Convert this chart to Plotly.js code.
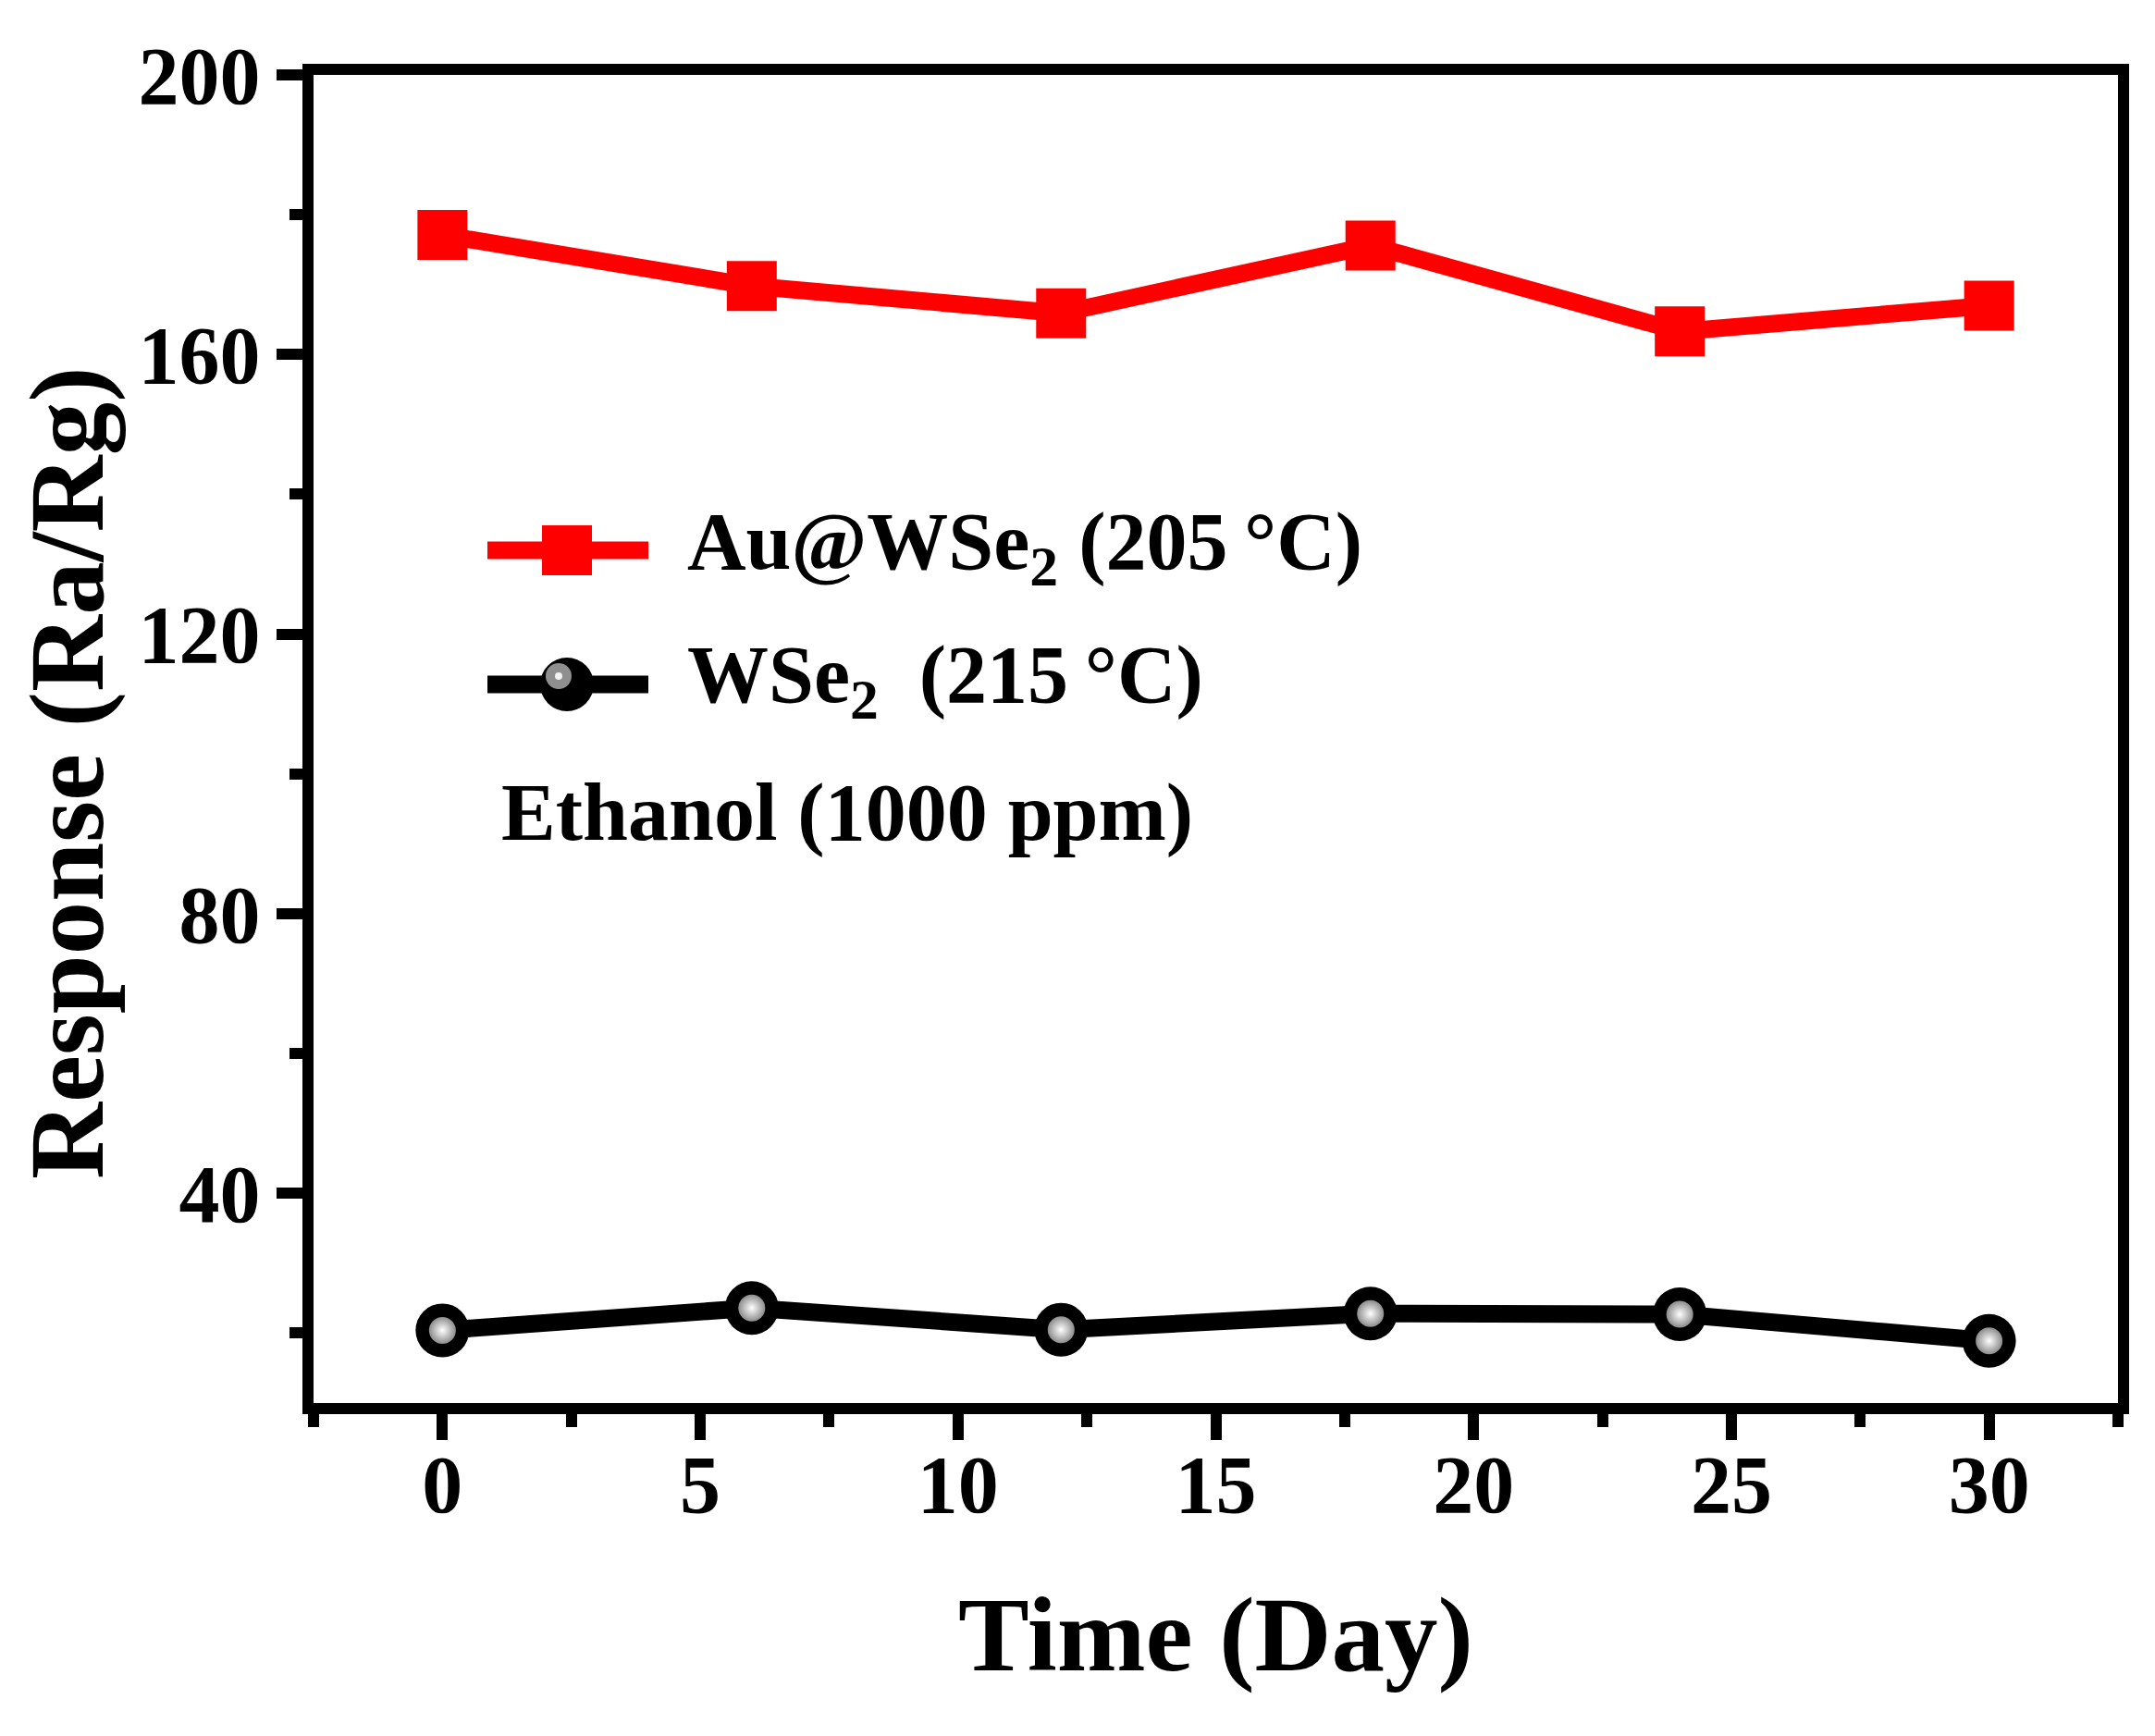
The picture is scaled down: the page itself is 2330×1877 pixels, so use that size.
<!DOCTYPE html>
<html>
<head>
<meta charset="utf-8">
<script src="https://cdn.plot.ly/plotly-3.0.1.min.js"></script>
<style>
  html, body { margin: 0; padding: 0; background: #fff; }
  #graph { width: 2330px; height: 1877px; }
</style>
</head>
<body>
<div id="graph"></div>
<script>
'use strict';

var days = [0, 6, 12, 18, 24, 30];
var responseAuWSe2 = [177.1, 169.8, 165.9, 175.6, 163.3, 167.0];
var responseWSe2 = [20.4, 23.6, 20.5, 22.8, 22.7, 18.9];

var xTickValues = [0, 5, 10, 15, 20, 25, 30];
var yTickValues = [40, 80, 120, 160, 200];

var seriesNames = ['Au@WSe<sub>2</sub> (205\u2009°C)', 'WSe<sub>2</sub>  (215\u2009°C)'];
var gasNote = 'Ethanol (1000 ppm)';
var xTitle = 'Time (Day)';
var yTitle = 'Response (Ra/Rg)';

var graph = document.getElementById('graph');

var FONT = 'Liberation Serif, Times New Roman, serif';
var W = 2330, H = 1877;
var margin = { l: 339, r: 40, t: 81, b: 360 };

/**
 * Pixel position on the page -> paper coordinates.
 */
function paperX(px) {
  return (px - margin.l) / (W - margin.l - margin.r);
}
function paperY(py) {
  return (H - margin.b - py) / (H - margin.t - margin.b);
}

var defaultAxis = {
  showline: true,
  linecolor: '#000',
  linewidth: 12,
  mirror: true,
  showgrid: false,
  zeroline: false,
  ticks: 'outside',
  ticklen: 28,
  tickwidth: 12,
  tickcolor: '#000',
  tickfont: { family: FONT, size: 88, color: '#000', weight: 'bold' },
  fixedrange: true
};

function constructAxis(options) {
  return Object.assign({}, defaultAxis, options);
}

/**
 * Hand-drawn legend: a line with its marker, placed in paper units with a pixel sized symbol.
 */
function legendSample(row, color, symbol) {
  var y = paperY(row);
  var cx = paperX(613);
  var shapes = [{
    type: 'line', xref: 'paper', yref: 'paper',
    x0: paperX(527), x1: paperX(701), y0: y, y1: y,
    line: { color: color, width: 19 }
  }];
  var box = {
    xref: 'paper', yref: 'paper',
    xsizemode: 'pixel', ysizemode: 'pixel',
    xanchor: cx, yanchor: y,
    fillcolor: color, line: { width: 0 }
  };
  if (symbol === 'square') {
    shapes.push(Object.assign({}, box, { type: 'rect', x0: -27, x1: 27, y0: -27, y1: 27 }));
  } else {
    shapes.push(Object.assign({}, box, { type: 'circle', x0: -29, x1: 29, y0: -29, y1: 29 }));
    // little glint on the ball
    shapes.push(Object.assign({}, box, { type: 'circle', x0: -23, x1: 5, y0: -5, y1: 23, fillcolor: '#8f8f8f' }));
    shapes.push(Object.assign({}, box, { type: 'circle', x0: -13, x1: -5, y0: 5, y1: 13, fillcolor: '#f2f2f2' }));
  }
  return shapes;
}

function textNote(text, left, row) {
  return {
    xref: 'paper', yref: 'paper',
    x: paperX(left), y: paperY(row),
    xanchor: 'left', yanchor: 'middle',
    text: text, showarrow: false,
    font: { family: FONT, size: 88, color: '#000', weight: 'bold' }
  };
}

var data = [
  {
    type: 'scatter', mode: 'lines+markers',
    name: seriesNames[0],
    x: days, y: responseAuWSe2,
    line: { color: '#ff0000', width: 19 },
    marker: { symbol: 'square', size: 54, color: '#ff0000' },
    cliponaxis: false
  },
  {
    type: 'scatter', mode: 'lines+markers',
    name: seriesNames[1],
    x: days, y: responseWSe2,
    line: { color: '#000', width: 19 },
    marker: { symbol: 'circle', size: 58, color: '#000' },
    cliponaxis: false
  },
  {
    // highlight on the black balls
    type: 'scatter', mode: 'markers',
    x: days, y: responseWSe2,
    marker: { symbol: 'circle', size: 29, color: '#8c8c8c',
              gradient: { type: 'radial', color: '#ffffff' } },
    showlegend: false, hoverinfo: 'skip',
    cliponaxis: false
  }
];

var layout = {
  width: W,
  height: H,
  margin: margin,
  paper_bgcolor: '#fff',
  plot_bgcolor: '#fff',
  showlegend: false,
  font: { family: FONT, color: '#000' },
  xaxis: constructAxis({
    range: [-2.5, 32.5],
    tickmode: 'array',
    tickvals: xTickValues,
    ticktext: xTickValues.map(String),
    ticklabelstandoff: -28,
    minor: { dtick: 2.5, tick0: 0, ticks: 'outside', ticklen: 14, tickwidth: 12, tickcolor: '#000' },
    title: { text: xTitle, standoff: 78,
             font: { family: FONT, size: 115, color: '#000', weight: 'bold' } }
  }),
  yaxis: constructAxis({
    range: [10, 200],
    tickmode: 'array',
    tickvals: yTickValues,
    ticktext: yTickValues.map(String),
    minor: { dtick: 20, tick0: 0, ticks: 'outside', ticklen: 14, tickwidth: 12, tickcolor: '#000' }
  }),
  shapes: legendSample(595, '#ff0000', 'square').concat(legendSample(740, '#000', 'circle')),
  annotations: [
    {
      // y title sits a little below the axis centre in the original
      xref: 'paper', yref: 'paper',
      x: paperX(72), y: paperY(836),
      xanchor: 'center', yanchor: 'middle',
      text: yTitle, textangle: -90, showarrow: false,
      font: { family: FONT, size: 115, color: '#000', weight: 'bold' }
    },
    textNote(seriesNames[0], 741, 591),
    textNote(seriesNames[1], 741, 735),
    textNote(gasNote, 540, 878)
  ]
};

var conf = { displayModeBar: false, staticPlot: true };

Plotly.newPlot(graph, data, layout, conf);
</script>
</body>
</html>
